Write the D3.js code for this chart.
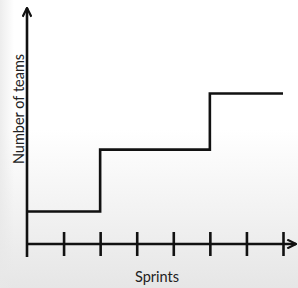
<!DOCTYPE html>
<html>
<head>
<meta charset="utf-8">
<script src="https://cdn.jsdelivr.net/npm/d3@7"></script>
<style>
  body { margin: 0; padding: 0; }
  svg { display: block; }
</style>
</head>
<body>
<div id="chart"></div>
<script>
const width = 298,
height = 288;

// sprint boundaries where the number of teams changes, and the level after each
const sprints = [0, 2, 5, 7];
const teams = [1.1, 3.2, 5.1, 5.1];
const tickSprints = [1, 2, 3, 4, 5, 6, 7];

const xLabel = "Sprints",
yLabel = "Number of teams";

var x = d3.scaleLinear()
    .domain([0, 7])
    .range([27, 283]);

var y = d3.scaleLinear()
    .domain([0, 8])
    .range([244, 8]);

var svg = d3.select("#chart").append("svg")
    .attr("width", width)
    .attr("height", height);

// soft grey fade towards the bottom
var defs = svg.append("defs");
var grad = defs.append("linearGradient")
    .attr("id", "bg")
    .attr("x1", 0).attr("y1", 0)
    .attr("x2", 0).attr("y2", 1);
grad.append("stop").attr("offset", "0%").attr("stop-color", "#ffffff");
grad.append("stop").attr("offset", "45%").attr("stop-color", "#ffffff");
grad.append("stop").attr("offset", "100%").attr("stop-color", "#e6e6e6");

var side = defs.append("linearGradient")
    .attr("id", "side")
    .attr("x1", 0).attr("y1", 0)
    .attr("x2", 1).attr("y2", 0);
side.append("stop").attr("offset", "0%").attr("stop-color", "#e8e8e8").attr("stop-opacity", 0.8);
side.append("stop").attr("offset", "100%").attr("stop-color", "#e8e8e8").attr("stop-opacity", 0);

svg.append("rect")
    .attr("width", width)
    .attr("height", height)
    .attr("fill", "url(#bg)");

svg.append("rect")
    .attr("width", 14)
    .attr("height", height)
    .attr("fill", "url(#side)");

// arrow head
defs.append("marker")
    .attr("id", "arrow")
    .attr("viewBox", "0 0 10 10")
    .attr("refX", 9).attr("refY", 5)
    .attr("markerWidth", 4.2).attr("markerHeight", 4.2)
    .attr("markerUnits", "strokeWidth")
    .attr("orient", "auto")
    .append("path")
    .attr("d", "M1,1 L9,5 L1,9")
    .attr("fill", "none")
    .attr("stroke", "#111")
    .attr("stroke-width", 2);

// x axis with ticks crossing the line
var xAxis = d3.axisBottom(x)
    .tickValues(tickSprints)
    .tickSize(24)
    .tickFormat("");

var gx = svg.append("g")
    .attr("transform", "translate(0," + (y(0) - 12) + ")")
    .call(xAxis);
gx.select(".domain").remove();
gx.selectAll(".tick line")
    .attr("stroke", "#111")
    .attr("stroke-width", 2.6);

svg.append("line")
    .attr("x1", x(0)).attr("y1", y(0))
    .attr("x2", 296).attr("y2", y(0))
    .attr("stroke", "#111")
    .attr("stroke-width", 2.6)
    .attr("marker-end", "url(#arrow)");

// y axis, runs a little below the x axis
svg.append("line")
    .attr("x1", x(0)).attr("y1", y(0) + 13)
    .attr("x2", x(0)).attr("y2", 8)
    .attr("stroke", "#111")
    .attr("stroke-width", 2.6)
    .attr("marker-end", "url(#arrow)");

// step line
var line = d3.line()
    .x(function(d, i) { return x(sprints[i]); })
    .y(function(d) { return y(d); })
    .curve(d3.curveStepAfter);

svg.append("path")
    .datum(teams)
    .attr("d", line)
    .attr("fill", "none")
    .attr("stroke", "#111")
    .attr("stroke-width", 2.6);

// labels
svg.append("text")
    .attr("x", 157)
    .attr("y", 282)
    .attr("text-anchor", "middle")
    .style("font-family", "Lato, 'Open Sans', sans-serif")
    .style("font-size", "14.5px")
    .style("fill", "#222")
    .text(xLabel);

svg.append("text")
    .attr("transform", "translate(23.5,109)rotate(-90)")
    .attr("text-anchor", "middle")
    .style("font-family", "Lato, 'Open Sans', sans-serif")
    .style("font-size", "14.5px")
    .style("fill", "#222")
    .text(yLabel);
</script>
</body>
</html>
